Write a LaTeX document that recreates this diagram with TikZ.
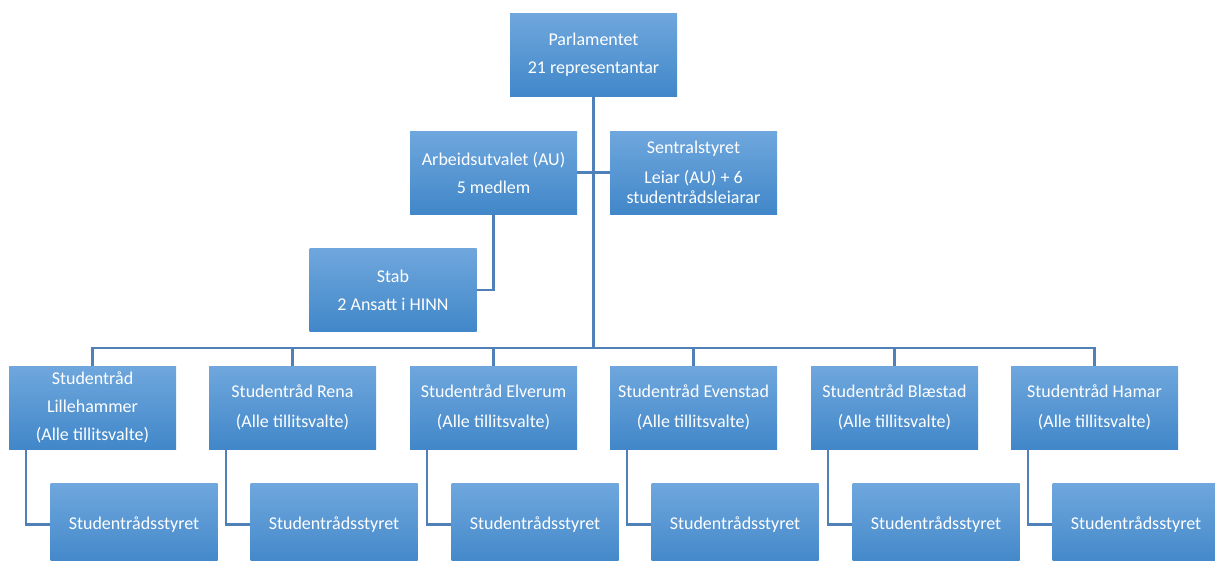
\documentclass[tikz,border=0pt]{standalone}
\usepackage{fontspec}
\setmainfont{Carlito}
\usepackage{tikz}
\usetikzlibrary{calc,positioning}

\definecolor{boxtop}{HTML}{6FA7DD}
\definecolor{boxbot}{HTML}{4187C9}
\definecolor{linkcol}{HTML}{4F80B8}

\tikzset{
  orgbox/.style={rectangle, inner sep=0pt, minimum width=125.25pt, minimum height=62.25pt,
    top color=boxtop, bottom color=boxbot, text=white, align=center,
    font=\fontsize{13.5}{15}\selectfont},
  link/.style={draw=linkcol, line width=1.6pt}
}

\begin{document}
\begin{tikzpicture}[x=0.75pt, y=-0.75pt]
      \useasboundingbox (0,0) rectangle (1215,561);
      \clip (0,0) rectangle (1215,561);
      % top levels
      \node[orgbox] (parl) at (593.5, 55) {Parlamentet\\[6pt]21 representantar};
      \node[orgbox] (au) at (493.5, 172.5) {Arbeidsutvalet (AU)\\[6pt]5 medlem};
      \node[orgbox] (sentral) at (693.5, 172.5) {Sentralstyret\\[7.5pt]Leiar (AU) + 6\\studentrådsleiarar};
      \node[orgbox] (stab) at (393, 290) {Stab\\[6pt]2 Ansatt i HINN};
      \coordinate (bus) at (593.5, 348);
      \draw[link] (parl.south) -- (bus);
      \draw[link] (au.east) -- (sentral.west);
      \draw[link] (au.south) |- (stab.east);
      % studentrad
      \foreach \i/\x/\txt in {1/92.5/{Studentråd\\[6pt]Lillehammer\\[6pt](Alle tillitsvalte)},
          2/292.5/{Studentråd Rena\\[7pt](Alle tillitsvalte)},
          3/493.5/{Studentråd Elverum\\[7pt](Alle tillitsvalte)},
          4/693.5/{Studentråd Evenstad\\[7pt](Alle tillitsvalte)},
          5/894.5/{Studentråd Blæstad\\[7pt](Alle tillitsvalte)},
          6/1094.5/{Studentråd Hamar\\[7pt](Alle tillitsvalte)}}{
        \node[orgbox] (sr\i) at (\x, 407.5) {\txt};
        \node[orgbox] (sy\i) at (\x+41.5, 524.5) {Studentrådsstyret};
        \draw[link] (bus) -| (sr\i.north);
        \draw[link] ($(sr\i.south west)+(17,0)$) |- (sy\i.west);
      }
    \end{tikzpicture}
\end{document}
